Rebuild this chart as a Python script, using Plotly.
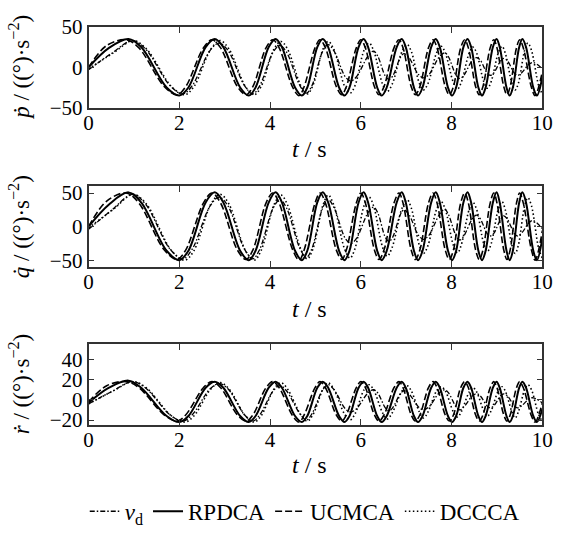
import plotly.graph_objects as go

# ---------------- data ----------------
# (extrema plus shoulder points on each flank of every swing)
T_RPD = [0, 0.45, 0.88, 1.16, 1.72, 2.0, 2.20, 2.58, 2.78, 2.97, 3.34, 3.53,
         3.68, 3.97, 4.12, 4.26, 4.55, 4.70, 4.82, 5.04, 5.16, 5.28, 5.52, 5.64,
         5.75, 5.95, 6.06, 6.16, 6.36, 6.46, 6.57, 6.79, 6.90, 6.99, 7.17, 7.26,
         7.36, 7.55, 7.65, 7.74, 7.92, 8.01, 8.10, 8.26, 8.35, 8.43, 8.59, 8.67,
         8.75, 8.91, 8.99, 9.06, 9.21, 9.28, 9.35, 9.49, 9.56, 9.64, 9.80, 9.88,
         10.0]
P_RPD = [0, 24, 35, 25, -25, -35, -25, 25, 35, 25, -25, -35,
         -25, 25, 35, 25, -25, -35, -25, 25, 35, 25, -25, -35,
         -25, 25, 35, 25, -25, -35, -25, 25, 35, 25, -25, -35,
         -25, 25, 35, 25, -25, -35, -25, 25, 35, 25, -25, -35,
         -25, 25, 35, 25, -25, -35, -25, 25, 35, 25, -25, -35,
         -12]
Q_RPD = [0, 33, 51, 36, -36, -50, -36, 36, 51, 36, -36, -50,
         -36, 36, 51, 36, -36, -50, -36, 36, 51, 36, -36, -50,
         -36, 36, 51, 36, -36, -50, -36, 36, 51, 36, -36, -50,
         -36, 36, 51, 36, -36, -50, -36, 36, 51, 36, -36, -50,
         -36, 36, 51, 36, -36, -50, -36, 36, 51, 36, -36, -50,
         -17]
R_RPD = [-3, 12, 19, 12, -16, -22, -16, 12, 18, 12, -16, -22,
         -16, 12, 18, 12, -16, -22, -16, 12, 18, 12, -16, -22,
         -16, 12, 18, 12, -16, -22, -16, 12, 18, 12, -16, -22,
         -16, 12, 18, 12, -16, -22, -16, 12, 18, 12, -16, -22,
         -16, 12, 18, 12, -16, -22, -16, 12, 18, 12, -16, -22,
         -9]

T_UCM = [0, 0.4, 0.83, 1.11, 1.67, 1.95, 2.14, 2.53, 2.72, 2.91, 3.28, 3.47,
         3.62, 3.91, 4.06, 4.20, 4.50, 4.64, 4.75, 4.99, 5.10, 5.22, 5.46, 5.58,
         5.68, 5.90, 6.00, 6.10, 6.30, 6.40, 6.51, 6.73, 6.84, 6.93, 7.11, 7.20,
         7.30, 7.49, 7.59, 7.68, 7.86, 7.95, 8.04, 8.20, 8.29, 8.37, 8.53, 8.61,
         8.69, 8.85, 8.93, 9.00, 9.15, 9.22, 9.29, 9.43, 9.50, 9.58, 9.76, 9.84,
         10.0]
P_UCM = [0, 27, 34, 24, -24, -34, -24, 24, 34, 24, -24, -34,
         -24, 24, 34, 24, -25, -35, -24, 24, 34, 24, -24, -34,
         -24, 24, 34, 24, -24, -34, -24, 24, 34, 24, -24, -34,
         -24, 24, 34, 24, -24, -34, -24, 24, 34, 24, -24, -34,
         -24, 24, 34, 24, -24, -34, -24, 24, 34, 24, -25, -35,
         -5]
Q_UCM = [0, 38, 50, 35, -35, -49, -35, 35, 50, 35, -35, -49,
         -35, 35, 50, 35, -35, -50, -35, 35, 50, 35, -35, -49,
         -35, 35, 50, 35, -35, -49, -35, 35, 50, 35, -35, -49,
         -35, 35, 50, 35, -35, -49, -35, 35, 50, 35, -35, -49,
         -35, 35, 50, 35, -35, -49, -35, 35, 50, 35, -35, -50,
         -6]
R_UCM = [-2, 14, 18, 12, -15, -21, -15, 12, 18, 12, -15, -21,
         -15, 12, 18, 12, -16, -22, -15, 12, 18, 12, -15, -21,
         -15, 12, 18, 12, -15, -21, -15, 12, 18, 12, -15, -21,
         -15, 12, 18, 12, -15, -21, -15, 12, 18, 12, -15, -21,
         -15, 12, 18, 12, -15, -21, -15, 12, 18, 12, -16, -22,
         -3]

T_DCC = [0, 0.55, 0.98, 1.27, 1.83, 2.12, 2.32, 2.70, 2.90, 3.09, 3.46, 3.65,
         3.80, 4.09, 4.24, 4.38, 4.68, 4.82, 4.94, 5.17, 5.28, 5.40, 5.64, 5.76,
         5.87, 6.07, 6.18, 6.28, 6.48, 6.58, 6.69, 6.91, 7.02, 7.11, 7.29, 7.38,
         7.48, 7.67, 7.77, 7.86, 8.04, 8.13, 8.21, 8.39, 8.47, 8.55, 8.71, 8.79,
         8.87, 9.03, 9.11, 9.18, 9.33, 9.40, 9.47, 9.61, 9.68, 9.76, 9.92, 10.0]
P_DCC = [-2, 18, 33, 23, -24, -34, -24, 23, 33, 23, -24, -34,
         -24, 23, 32, 23, -23, -33, -23, 23, 32, 23, -23, -32,
         -23, 21, 30, 21, -21, -30, -21, 20, 28, 20, -20, -28,
         -20, 18, 26, 18, -19, -27, -19, 18, 25, 18, -18, -26,
         -18, 18, 26, 18, -20, -28, -20, 21, 30, 21, -23, -33]
Q_DCC = [-2, 26, 48, 34, -36, -50, -36, 34, 48, 34, -36, -50,
         -36, 33, 47, 33, -34, -48, -34, 33, 47, 33, -33, -47,
         -33, 31, 44, 31, -31, -44, -31, 28, 40, 28, -28, -40,
         -28, 26, 37, 26, -28, -39, -28, 26, 36, 26, -26, -37,
         -26, 26, 37, 26, -28, -40, -28, 31, 43, 31, -33, -47]
R_DCC = [-4, 9, 18, 12, -16, -22, -16, 11, 17, 11, -16, -22,
         -16, 11, 17, 11, -15, -21, -15, 11, 17, 11, -14, -20,
         -14, 10, 15, 10, -13, -19, -13, 9, 14, 9, -12, -18,
         -12, 9, 13, 9, -12, -17, -12, 8, 12, 8, -11, -16,
         -11, 9, 13, 9, -12, -18, -12, 10, 15, 10, -15, -21]

T_VD = [0, 0.5, 0.97, 1.25, 1.80, 2.08, 2.28, 2.68, 2.88, 3.07, 3.44, 3.62,
        3.77, 4.07, 4.22, 4.36, 4.66, 4.80, 4.92, 5.16, 5.28, 5.41, 5.66, 5.78,
        5.90, 6.16, 6.28, 6.37, 6.54, 6.62, 6.70, 6.87, 6.95, 7.06, 7.27, 7.38,
        7.50, 7.73, 7.85, 7.93, 8.10, 8.18, 8.27, 8.46, 8.55, 8.63, 8.78, 8.85,
        8.93, 9.08, 9.15, 9.23, 9.38, 9.45, 9.54, 9.71, 9.80, 10.0]
P_VD = [-3, 17, 33, 23, -23, -33, -23, 21, 30, 21, -23, -33,
        -23, 19, 27, 19, -23, -32, -23, 20, 28, 20, -12, -17,
        -12, 14, 20, 14, -11, -15, -11, 12, 17, 12, -9, -13,
        -9, 13, 18, 13, -10, -14, -10, 9, 12, 9, -7, -10,
        -7, 8, 11, 8, -7, -10, -7, 4, 6, -2]
Q_VD = [-4, 24, 48, 34, -34, -48, -34, 31, 44, 31, -34, -48,
        -34, 28, 40, 28, -33, -46, -33, 28, 40, 28, -18, -25,
        -18, 21, 29, 21, -16, -22, -16, 18, 25, 18, -13, -19,
        -13, 18, 26, 18, -14, -20, -14, 12, 17, 12, -10, -14,
        -10, 11, 16, 11, -10, -14, -10, 6, 9, -3]
R_VD = [-4, 8, 18, 12, -15, -21, -15, 11, 16, 11, -15, -21,
        -15, 9, 14, 9, -14, -20, -14, 10, 15, 10, -9, -12,
        -9, 7, 10, 7, -8, -11, -8, 6, 9, 6, -7, -10,
        -7, 7, 10, 7, -7, -10, -7, 4, 6, 4, -6, -8,
        -6, 4, 6, 4, -6, -8, -6, 1, 2, -3]

X_TICKS = [0, 2, 4, 6, 8, 10]
Y_TICKS = [[-50, 0, 50], [-50, 0, 50], [-20, 0, 20, 40]]
Y_RANGES = [[-50, 50], [-60, 60], [-25, 55]]
Y_LABELS = ["<i>ṗ</i> / ((°)·s<sup>−2</sup>)",
            "<i>q̇</i> / ((°)·s<sup>−2</sup>)",
            "<i>ṙ</i> / ((°)·s<sup>−2</sup>)"]
X_LABEL = "<i>t</i> / s"

SERIES = [
    ("<i>v</i><sub>d</sub>", T_VD, [P_VD, Q_VD, R_VD], "5px,2px,1.5px,2px", 1.3),
    ("RPDCA", T_RPD, [P_RPD, Q_RPD, R_RPD], "solid", 2.0),
    ("UCMCA", T_UCM, [P_UCM, Q_UCM, R_UCM], "7px,3px", 1.6),
    ("DCCCA", T_DCC, [P_DCC, Q_DCC, R_DCC], "1.5px,2.5px", 1.6),
]
for _n, _t, _vs, _d, _w in SERIES:
    for _v in _vs:
        assert len(_t) == len(_v), (_n, len(_t), len(_v))

# ---------------- figure ----------------
W, H = 566, 533
FONT = "Liberation Serif, Times New Roman, serif"
fig = go.Figure()

x_dom = [86 / W, 553 / W]
panels_px = [(15.7, 101), (184, 269), (350.7, 436)]   # top, bottom in px

for k in range(3):
    ax = "" if k == 0 else str(k + 1)
    for name, t, vals, dash, lw in SERIES:
        fig.add_trace(go.Scatter(
            x=t, y=vals[k], name=name, mode="lines",
            line=dict(color="black", width=lw, dash=dash, shape="spline", smoothing=1.0),
            showlegend=(k == 0), legendgroup=name,
            xaxis="x" + ax, yaxis="y" + ax))

layout = dict(
    width=W, height=H, margin=dict(l=0, r=0, t=0, b=0),
    paper_bgcolor="white", plot_bgcolor="white",
    font=dict(family=FONT, size=19, color="black"),
    showlegend=True,
    legend=dict(orientation="h", x=0.545, xanchor="center", y=1 - 527 / H, yanchor="middle",
                font=dict(family=FONT, size=23), bgcolor="rgba(0,0,0,0)",
                itemwidth=30, tracegroupgap=0),
)
annotations = []
for k in range(3):
    top, bot = panels_px[k]
    ax = "" if k == 0 else str(k + 1)
    layout["xaxis" + ax] = dict(
        domain=x_dom, range=[0, 10], anchor="y" + ax,
        tickvals=X_TICKS, ticks="inside", ticklen=6, tickwidth=1.3, tickcolor="#333",
        showline=True, linecolor="#333", linewidth=1.5, mirror="ticks",
        ticklabelstandoff=-5,
        showgrid=False, zeroline=False, tickfont=dict(family=FONT, size=21))
    layout["yaxis" + ax] = dict(
        domain=[1 - bot / H, 1 - top / H], range=Y_RANGES[k], anchor="x" + ax,
        tickvals=Y_TICKS[k], ticks="inside", ticklen=6, tickwidth=1.3, tickcolor="#333",
        showline=True, linecolor="#333", linewidth=1.5, mirror="ticks",
        showgrid=False, zeroline=False, tickfont=dict(family=FONT, size=21))
    xl_y = [145, 313, 478][k]
    annotations.append(dict(text=X_LABEL, xref="paper", yref="paper",
                            x=313 / W, y=1 - xl_y / H, xanchor="center", yanchor="middle",
                            showarrow=False, font=dict(family=FONT, size=24)))
    annotations.append(dict(text=Y_LABELS[k], xref="paper", yref="paper",
                            x=15 / W, y=1 - ((top + bot) / 2) / H, textangle=-90,
                            xanchor="center", yanchor="middle",
                            showarrow=False, font=dict(family=FONT, size=23)))
layout["annotations"] = annotations
fig.update_layout(**layout)
fig.write_html("out.html")
